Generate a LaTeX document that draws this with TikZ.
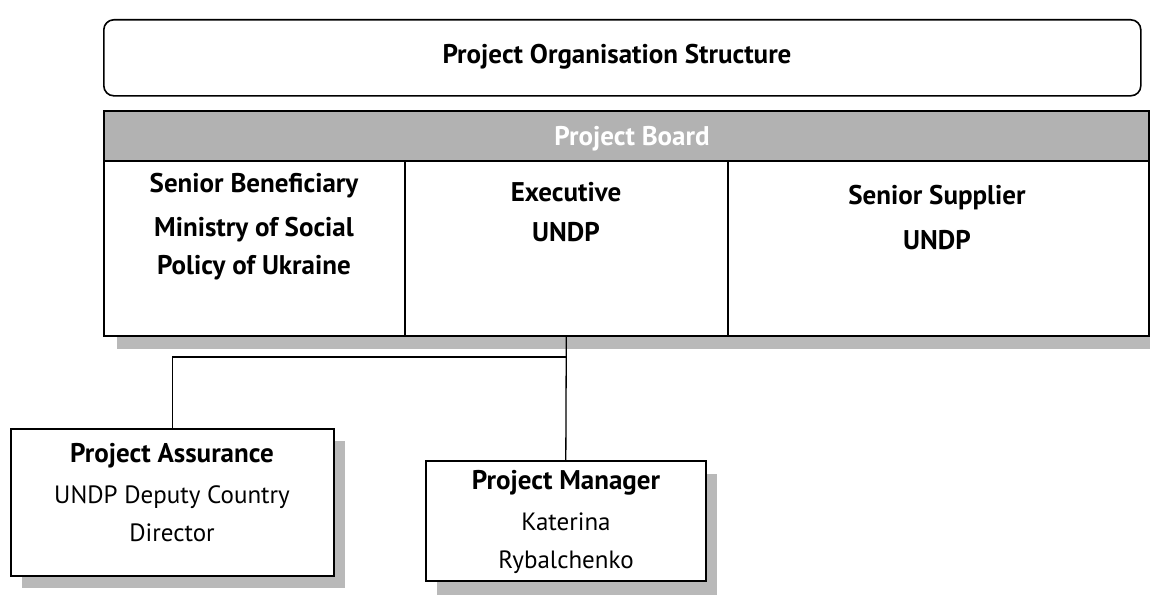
\documentclass[tikz,border=0pt]{standalone}
\usepackage{fontspec}
\setmainfont{PT Sans}
\begin{document}
\begin{tikzpicture}[x=1pt,y=-1pt,
  box/.style={draw=black, line width=1.6pt, fill=white, anchor=north west, inner sep=0pt},
  shadowbox/.style={fill=gray!55, draw=none, anchor=north west, inner sep=0pt},
  bt/.style={font=\fontsize{27}{30}\selectfont\bfseries, align=center, inner sep=0pt},
  rt/.style={font=\fontsize{25}{29}\selectfont, align=center, inner sep=0pt},
  conn/.style={draw=black, line width=1.3pt}]
\useasboundingbox (0,0) rectangle (1150,594);
% title
\node[box, rounded corners=10pt, minimum width=1037pt, minimum height=76pt] (title) at (103,19) {};
\node[bt] (titletext) at (617,57) {Project Organisation Structure};
% board shadow
\node[shadowbox, minimum width=1035pt, minimum height=225pt] (boardshadow) at (117,124) {};
% board header
\node[box, fill=gray!60, minimum width=1045pt, minimum height=50pt] (header) at (103,110) {};
\node[bt, text=white] (headertext) at (632,139) {Project Board};
% columns
\node[box, minimum width=301pt, minimum height=175pt] (sb) at (103,160) {};
\node[box, minimum width=323pt, minimum height=175pt] (exec) at (404,160) {};
\node[box, minimum width=421pt, minimum height=175pt] (ss) at (727,160) {};
\node[bt] (sbt1) at (254,186) {Senior Beneficiary};
\node[bt] (sbt2) at (254,230) {Ministry of Social};
\node[bt] (sbt3) at (254,268) {Policy of Ukraine};
\node[bt] (ext1) at (566,192) {Executive};
\node[bt] (ext2) at (566,232) {UNDP};
\node[bt] (sst1) at (937,198) {Senior Supplier};
\node[bt] (sst2) at (937,240) {UNDP};
% lower shadows
\node[shadowbox, minimum width=323pt, minimum height=147pt] (pashadow) at (22,441) {};
\node[shadowbox, minimum width=280pt, minimum height=122pt] (pmshadow) at (437,474) {};
% lower boxes
\node[box, minimum width=323pt, minimum height=147pt] (pa) at (10,428) {};
\node[box, minimum width=280pt, minimum height=120pt] (pm) at (425,460) {};
\node[bt] (pat1) at (172,456) {Project Assurance};
\node[rt] (pat2) at (172,497) {UNDP Deputy Country};
\node[rt] (pat3) at (172,533) {Director};
\node[bt] (pmt1) at (566,483) {Project Manager};
\node[rt] (pmt2) at (566,522) {Katerina};
\begin{scope}
\clip (425,460) rectangle (705,579);
\node[rt] (pmt3) at (566,562) {Rybalchenko};
\end{scope}
% connectors
\coordinate (jn) at (exec.south |- 0,357);
\draw[conn] (exec.south) -- (pm.north);
\draw[conn] (pa.north) |- (jn);
\end{tikzpicture}
\end{document}
